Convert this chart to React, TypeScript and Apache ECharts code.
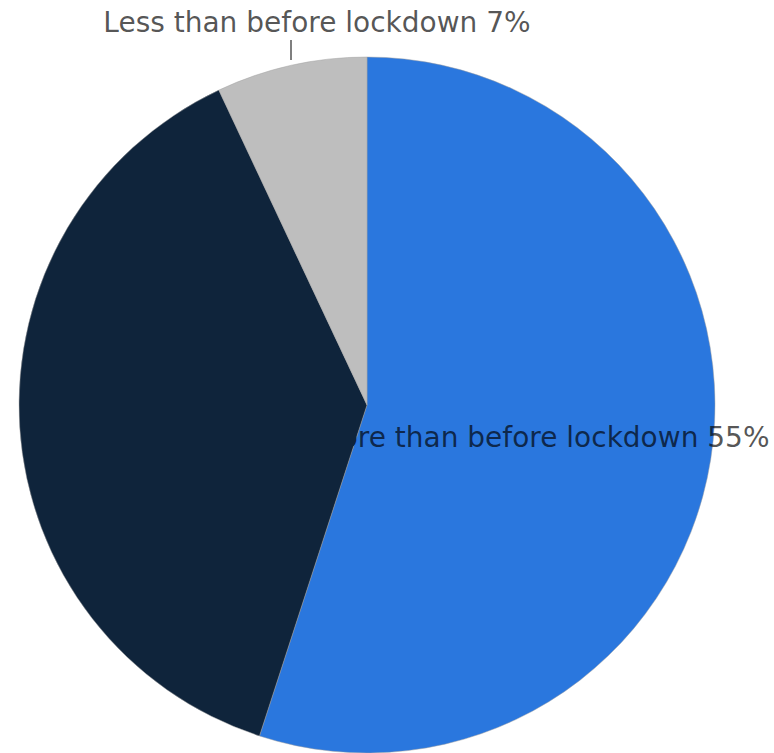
import React, { useEffect, useRef } from "react";
import * as echarts from "echarts";

const categories = [
  "More than before lockdown",
  "About the same as before lockdown",
  "Less than before lockdown",
];
const values = [55, 38, 7];
const colors = ["#2a77de", "#0f243b", "#bebebe"];
const showLabel = [true, false, true];

export default function App() {
  const ref = useRef<HTMLDivElement>(null);
  useEffect(() => {
    if (!ref.current) return;
    const chart = echarts.init(ref.current, null, { renderer: "svg" });
    const data = categories.map((name, i) => ({
      name,
      value: values[i],
      itemStyle: { color: colors[i] },
      label: i === 0
        ? { show: true, position: "inside" }
        : { show: showLabel[i], position: "outside" },
      labelLine: { show: showLabel[i] && i !== 0, length: 8, length2: 0, lineStyle: { color: "#555", width: 1.5 } },
    }));
    chart.setOption({
      animation: false,
      series: [
        {
          type: "pie",
          center: [367, 405],
          radius: 348,
          startAngle: 90,
          clockwise: true,
          avoidLabelOverlap: false,
          itemStyle: { borderColor: "rgba(160,160,160,0.6)", borderWidth: 0.8 },
          label: {
            formatter: (p: any) => {
              const t = `${p.name} ${p.value}%`;
              if (p.dataIndex === 0) return `{h|${t.slice(0, 2)}}{n|${t.slice(2)}}`;
              return `{n|${t}}`;
            },
            fontFamily: "DejaVu Sans",
            fontSize: 28,
            color: "rgba(0,0,0,0.68)",
            rich: {
              h: { fontFamily: "DejaVu Sans", fontSize: 28, color: colors[1] },
              n: { fontFamily: "DejaVu Sans", fontSize: 28, color: "rgba(0,0,0,0.68)" },
            },
          },
          labelLayout: (params: any) => {
            if (params.dataIndex === 2) {
              return {
                x: 317, y: 22, align: "center", verticalAlign: "middle",
                labelLinePoints: [[291, 60], [291, 50], [291, 40]],
              };
            }
            if (params.dataIndex === 0) {
              return { x: 543, y: 437, align: "center", verticalAlign: "middle" };
            }
            return {};
          },
          data,
        },
      ],
    });
    return () => chart.dispose();
  }, []);
  return (
    <div
      ref={ref}
      style={{ position: "fixed", left: 0, top: 0, width: 774, height: 753, background: "#fff" }}
    />
  );
}
